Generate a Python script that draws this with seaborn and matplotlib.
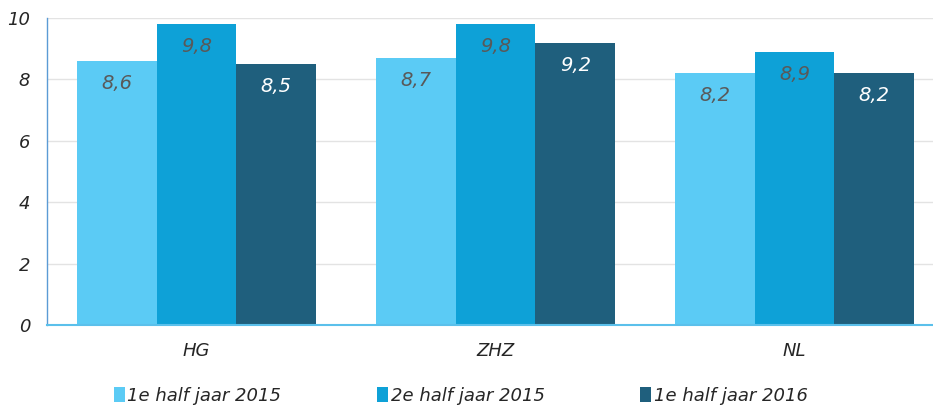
import pandas as pd
import matplotlib.pyplot as plt
import seaborn as sns
from matplotlib.patches import Patch

regios = ["HG", "ZHZ", "NL"]
periodes = ["1e half jaar 2015", "2e half jaar 2015", "1e half jaar 2016"]
h1_2015 = [8.6, 8.7, 8.2]
h2_2015 = [9.8, 9.8, 8.9]
h1_2016 = [8.5, 9.2, 8.2]
kleuren = ["#5BCBF5", "#0EA1D7", "#1F5F7D"]

df = pd.DataFrame({
    "regio": regios * 3,
    "periode": [p for p in periodes for _ in regios],
    "score": h1_2015 + h2_2015 + h1_2016,
})

sns.set_theme(style="white")
plt.rcParams["font.family"] = ["DejaVu Sans"]

fig = plt.figure(figsize=(9.33, 4.08), dpi=100)
ax = fig.add_axes([47 / 933, 83 / 408, 897 / 933, 307 / 408])

sns.barplot(data=df, x="regio", y="score", hue="periode", palette=kleuren,
            width=0.8, gap=0, saturation=1, linewidth=0, ax=ax, legend=False)

ax.set_ylim(0, 10)
ax.set_xlim(-0.5, 2.5)
ax.set_yticks([0, 2, 4, 6, 8, 10])
ax.yaxis.grid(True, color="#E3E3E3", lw=1)
ax.set_axisbelow(True)
ax.set_xlabel("")
ax.set_ylabel("")
for s in ["top", "right"]:
    ax.spines[s].set_visible(False)
ax.spines["left"].set_color("#5B9BD5")
ax.spines["bottom"].set_color("#5BC0EB")
ax.spines["left"].set_linewidth(1)
ax.spines["bottom"].set_linewidth(1.5)
ax.tick_params(axis="both", length=0, labelsize=13, labelcolor="#262626")
ax.tick_params(axis="y", pad=12)
ax.tick_params(axis="x", pad=12)
for lbl in ax.get_xticklabels() + ax.get_yticklabels():
    lbl.set_fontstyle("italic")

for i, cont in enumerate(ax.containers):
    kleur = "white" if i == 2 else "#595959"
    ax.bar_label(cont, labels=[f"{b.get_height():.1f}".replace(".", ",") for b in cont],
                 label_type="edge", padding=-23, color=kleur, fontsize=14,
                 fontstyle="italic")

handles = [Patch(facecolor=k, edgecolor="none") for k in kleuren]
fig.legend(handles, periodes, loc="center", bbox_to_anchor=(0.494, 0.03), ncol=3,
           frameon=False, handlelength=0.6, handleheight=0.9,
           handletextpad=0.15, columnspacing=5.3, prop={"style": "italic", "size": 13})

fig.savefig("out.png", dpi=100)
